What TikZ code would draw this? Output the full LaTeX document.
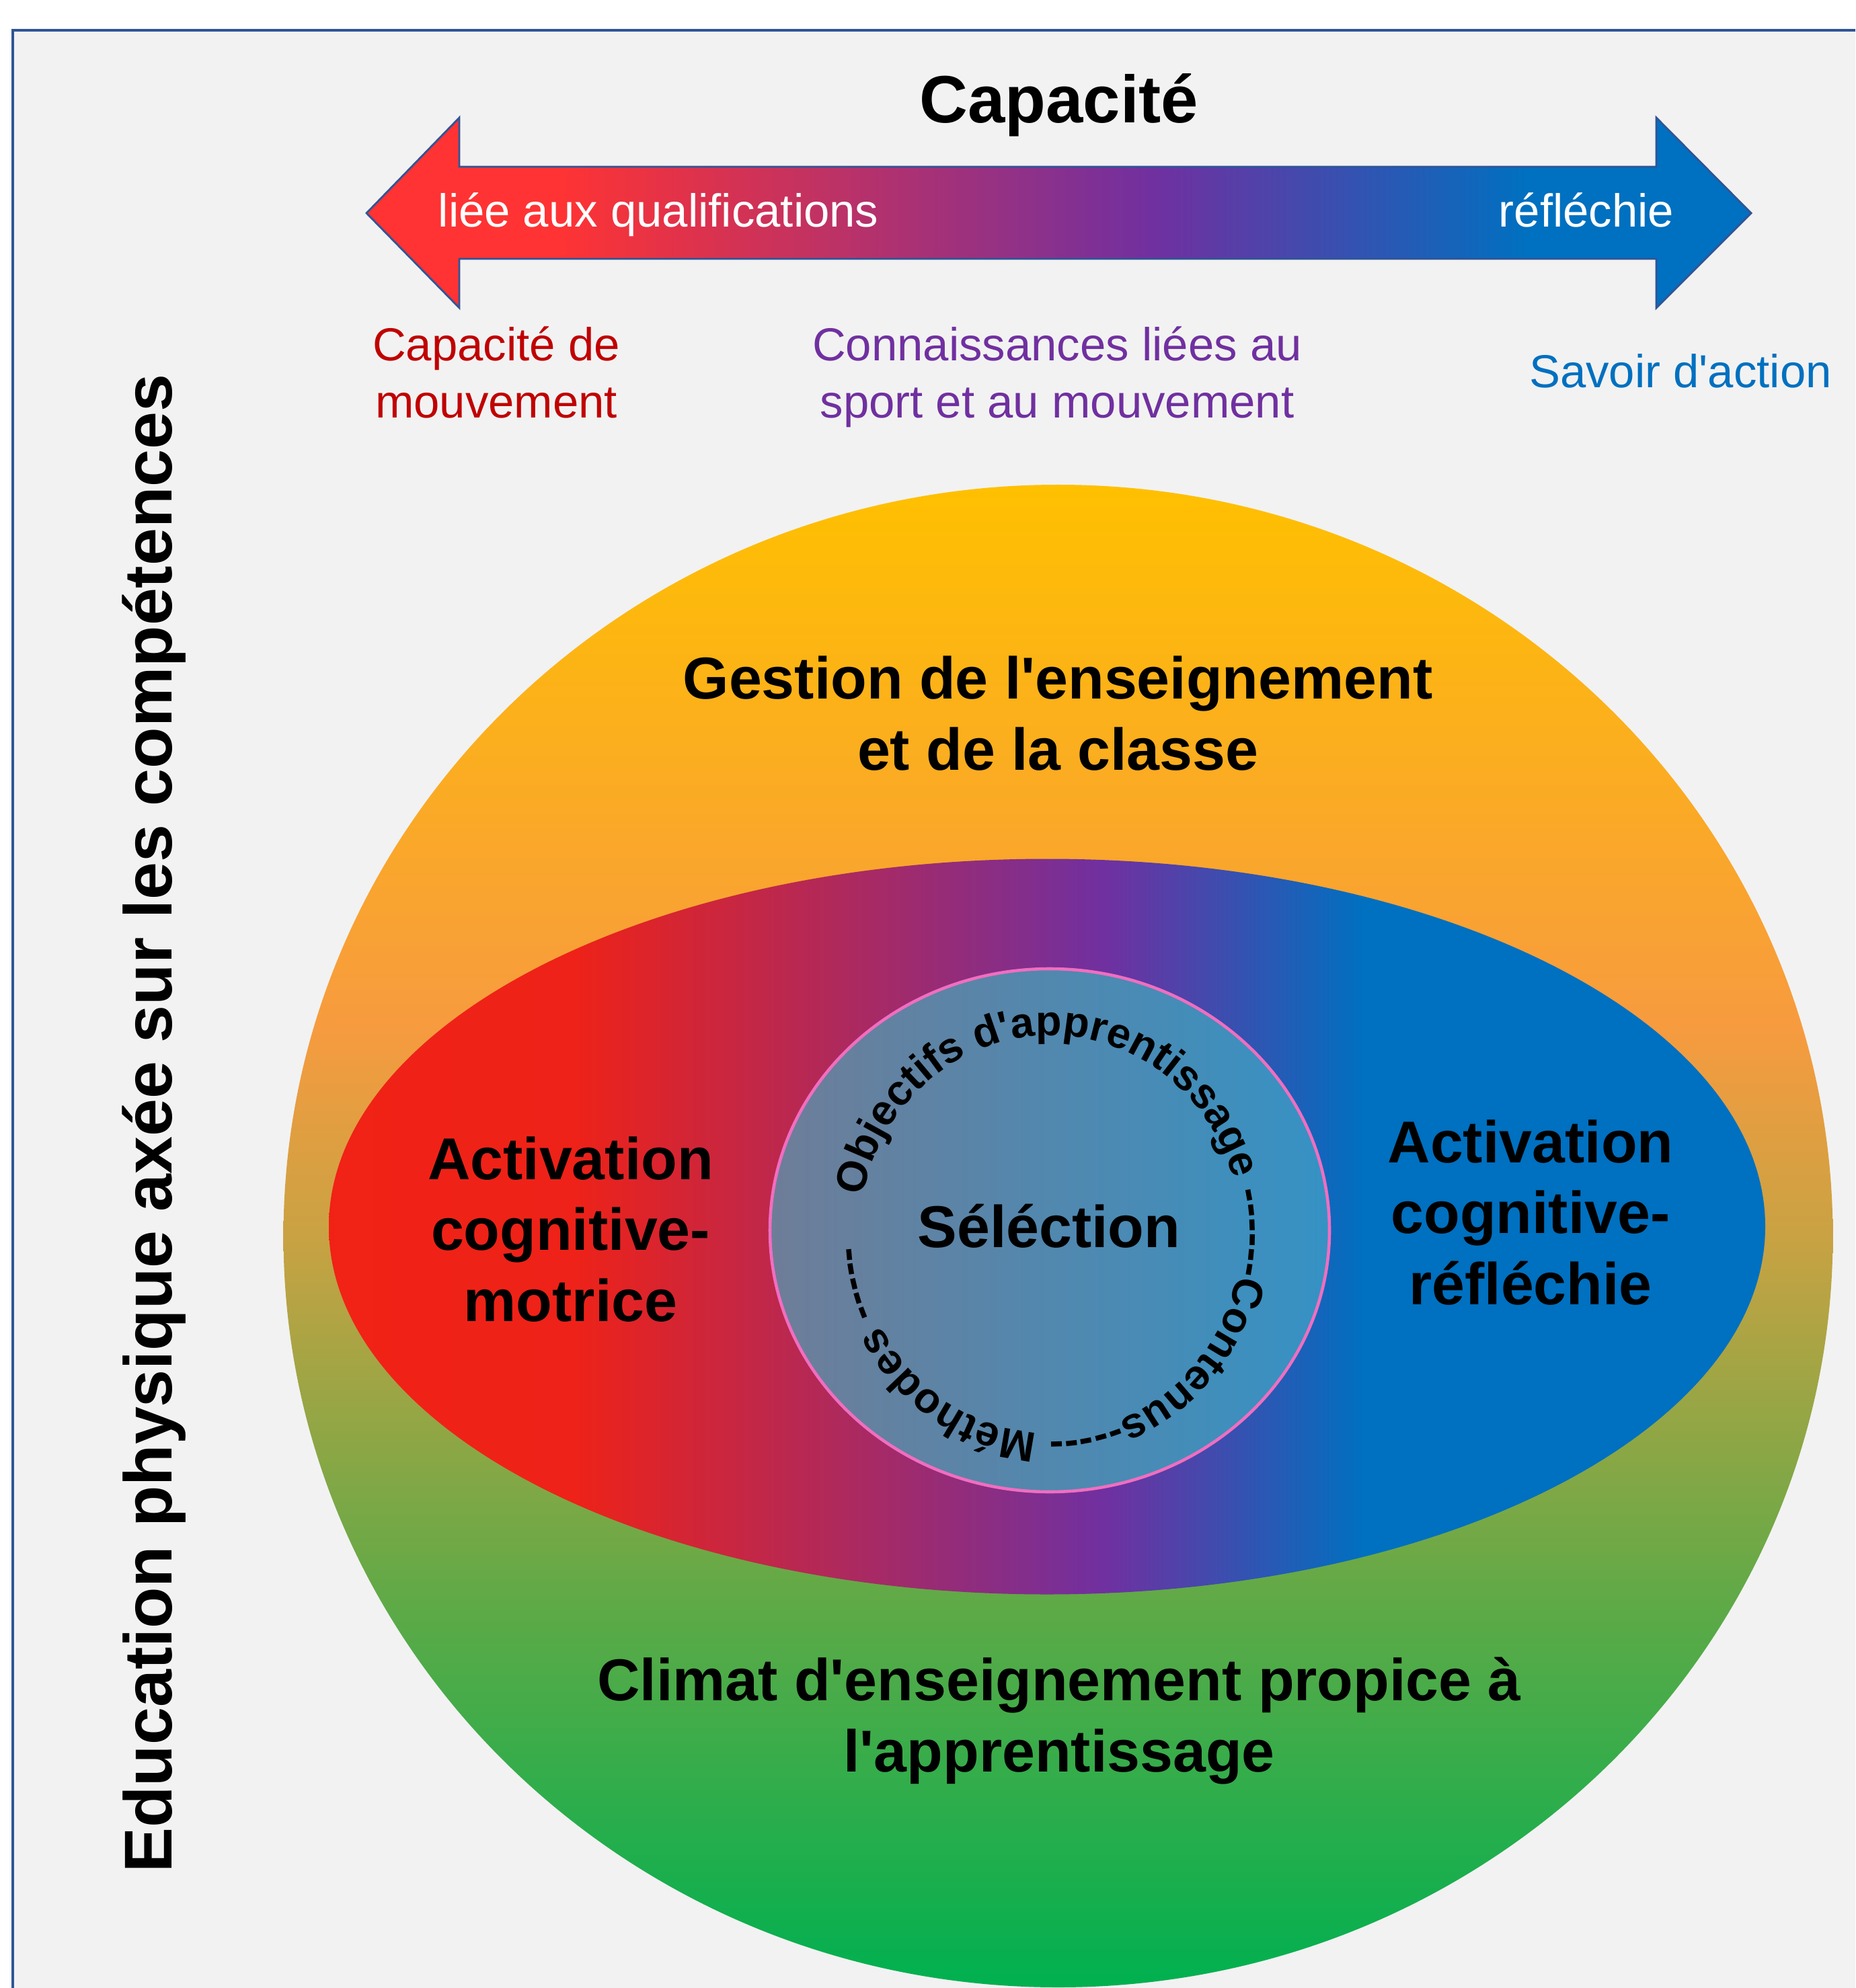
\documentclass[tikz,border=0pt]{standalone}
\usepackage{fontspec}
\setmainfont{Liberation Sans}[Ligatures=TeXOff]
\usetikzlibrary{decorations.text}

\definecolor{framebl}{HTML}{2F5597}
\definecolor{paper}{HTML}{F2F2F2}
\definecolor{capred}{HTML}{C00000}
\definecolor{cappurple}{HTML}{7030A0}
\definecolor{capblue}{HTML}{0070C0}
\definecolor{arred}{HTML}{FF3333}
\definecolor{ovred}{HTML}{FA2010}
\definecolor{ovred2}{HTML}{EE2218}
\definecolor{cgold}{HTML}{FFC000}
\definecolor{corange}{HTML}{F79B3F}
\definecolor{colive}{HTML}{C9A243}
\definecolor{cgreen2}{HTML}{5CAA47}
\definecolor{cgreen}{HTML}{00B050}
\definecolor{coreleft}{HTML}{6E7D98}
\definecolor{coreright}{HTML}{3592C4}
\definecolor{corepink}{HTML}{F06EC0}

% shadings (path fills 25bp..75bp)
\pgfdeclarehorizontalshading{arrowshade}{100bp}{color(0bp)=(arred); color(31.85bp)=(arred); color(53.45bp)=(cappurple); color(66.9bp)=(capblue); color(100bp)=(capblue)}
\pgfdeclarehorizontalshading{ovalshade}{100bp}{color(0bp)=(ovred); color(33.5bp)=(ovred2); color(52bp)=(cappurple); color(61bp)=(capblue); color(100bp)=(capblue)}
\pgfdeclareverticalshading{roundshade}{100bp}{color(0bp)=(cgreen); color(25bp)=(cgreen); color(37.5bp)=(cgreen2); color(50bp)=(colive); color(57bp)=(corange); color(75bp)=(cgold); color(100bp)=(cgold)}
\pgfdeclarehorizontalshading{coreshade}{100bp}{color(0bp)=(coreleft); color(25bp)=(coreleft); color(75bp)=(coreright); color(100bp)=(coreright)}

\begin{document}
\begin{tikzpicture}[
    bigtext/.style={font=\fontsize{25}{30}\selectfont\bfseries, align=center},
    smalltext/.style={font=\fontsize{19.6}{24.2}\selectfont, align=center},
  ]
  \useasboundingbox (0,0) rectangle (27.59,-29.57);
  \fill[paper] (0.19,-0.45) rectangle (27.59,-29.57);
  \draw[framebl, line width=1.4pt] (0.19,-29.57) -- (0.19,-0.45) -- (27.59,-0.45);

  % double arrow
  \shadedraw[shading=arrowshade, draw=framebl, line width=0.8pt]
    (5.45,-3.17) -- (6.83,-1.75) -- (6.83,-2.48) -- (24.63,-2.48) -- (24.63,-1.75)
    -- (26.04,-3.17) -- (24.63,-4.58) -- (24.63,-3.85) -- (6.83,-3.85) -- (6.83,-4.58) -- cycle;

  \node[font=\fontsize{28.3}{34}\selectfont\bfseries, anchor=base] (capacite) at (15.75,-1.83) {Capacité};
  \node[smalltext, text=white, anchor=base west, inner sep=0] (liee) at (6.51,-3.38) {liée aux qualifications};
  \node[smalltext, text=white, anchor=base east, inner sep=0] (reflechie) at (24.90,-3.38) {réfléchie};

  % base = last line
  \node[smalltext, text=capred, anchor=base] (mouvement) at (7.38,-6.22) {Capacité de\\mouvement};
  \node[smalltext, text=cappurple, anchor=base] (connaissances) at (15.72,-6.22) {Connaissances liées au\\sport et au mouvement};
  \node[smalltext, text=capblue, anchor=base] (savoir) at (24.99,-5.77) {Savoir d'action};

  \node[rotate=90, anchor=base, font=\fontsize{28.6}{34}\selectfont\bfseries] (education) at (2.55,-16.71)
    {Education physique axée sur les compétences};

  % circles
  \shade[shading=roundshade] (15.735,-18.385) ellipse[x radius=11.52, y radius=11.175];
  \shade[shading=ovalshade] (15.57,-18.245) ellipse[x radius=10.68, y radius=5.47];
  \shadedraw[shading=coreshade, draw=corepink, line width=1.3pt] (15.61,-18.30) ellipse[x radius=4.16, y radius=3.89];

  \node[bigtext, anchor=base] (gestion) at (15.73,-11.45) {Gestion de l'enseignement\\et de la classe};
  \node[bigtext, anchor=base] (motrice) at (8.485,-19.65) {Activation\\cognitive-\\motrice};
  \node[bigtext, anchor=base] (reflechie2) at (22.76,-19.40) {Activation\\cognitive-\\réfléchie};
  \node[bigtext, anchor=base] (selection) at (15.60,-18.55) {Séléction};
  \node[bigtext, anchor=base] (climat) at (15.75,-26.35) {Climat d'enseignement propice à\\l'apprentissage};

  % text round the core
  \coordinate (ringc) at (15.62,-18.36);
  \path[decorate, decoration={text along path, text align=left,
      text={|\fontsize{18}{21}\selectfont\bfseries|Objectifs d'apprentissage ------Contenus----- Méthodes -----}}]
    ([shift={(169:2.84 and 2.96)}]ringc) arc[start angle=169, end angle=-191, x radius=2.84, y radius=2.96];
\end{tikzpicture}
\end{document}
